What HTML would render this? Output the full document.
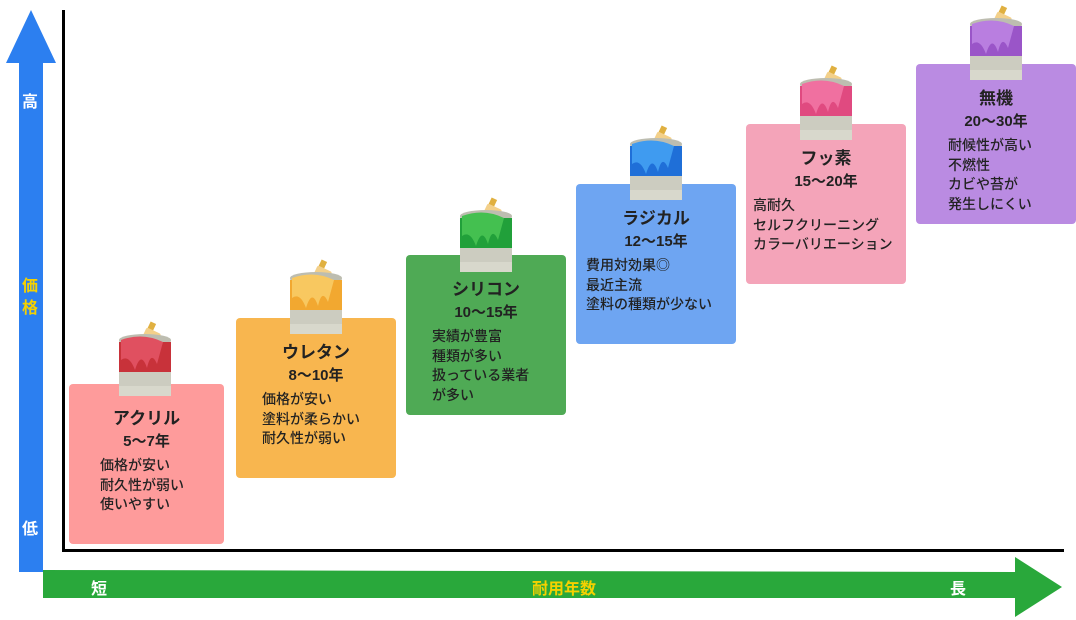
<!DOCTYPE html>
<html><head><meta charset="utf-8"><style>
body{margin:0;width:1076px;height:620px;background:#fff;position:relative;overflow:hidden;font-family:"Liberation Sans","Noto Sans CJK JP",sans-serif;color:#222}
.b{position:absolute;width:156px;height:160px;border-radius:4px}
.t{position:absolute;left:0;width:100%;text-align:center;font-weight:bold}
.t1{top:20px;font-size:17px}
.t2{top:46px;font-size:15px}
.l{position:absolute;top:72px;font-size:14px;line-height:19.5px;font-weight:500;white-space:nowrap}
.can{position:absolute;width:64px;height:80px}
.ax{position:absolute;color:#fff;font-weight:bold;font-size:16px}
</style></head><body>
<!-- axes -->
<div style="position:absolute;left:62px;top:10px;width:3px;height:542px;background:#000"></div>
<div style="position:absolute;left:62px;top:549px;width:1002px;height:3px;background:#000"></div>
<!-- blue arrow -->
<svg style="position:absolute;left:0;top:0" width="70" height="580"><polygon points="31,10 56,63 43,63 43,572 19,572 19,63 6,63" fill="#2c7ff0"/></svg>
<div class="ax" style="left:22px;top:88px">高</div>
<div class="ax" style="left:22px;top:276px;color:#f5d100;line-height:22px">価<br>格</div>
<div class="ax" style="left:22px;top:515px">低</div>
<!-- green arrow -->
<svg style="position:absolute;left:0;top:550px" width="1076" height="70"><polygon points="43,20 1015,22 1015,7 1062,37 1015,67 1015,48 43,48" fill="#29a83b"/></svg>
<div class="ax" style="left:91px;top:575px">短</div>
<div class="ax" style="left:532px;top:575px;color:#f5d100">耐用年数</div>
<div class="ax" style="left:950px;top:575px">長</div>

<div class="b" style="left:69px;top:384px;background:#fe9b9b;width:155px"><div class="t t1">アクリル</div><div class="t t2">5〜7年</div><div class="l" style="left:31px">価格が安い<br>耐久性が弱い<br>使いやすい</div></div>
<div class="b" style="left:236px;top:318px;background:#f8b64f;width:160px"><div class="t t1">ウレタン</div><div class="t t2">8〜10年</div><div class="l" style="left:26px">価格が安い<br>塗料が柔らかい<br>耐久性が弱い</div></div>
<div class="b" style="left:406px;top:255px;background:#4faa55;width:160px"><div class="t t1">シリコン</div><div class="t t2">10〜15年</div><div class="l" style="left:26px">実績が豊富<br>種類が多い<br>扱っている業者<br>が多い</div></div>
<div class="b" style="left:576px;top:184px;background:#6ea5f2;width:160px"><div class="t t1">ラジカル</div><div class="t t2">12〜15年</div><div class="l" style="left:10px">費用対効果◎<br>最近主流<br>塗料の種類が少ない</div></div>
<div class="b" style="left:746px;top:124px;background:#f4a4b9;width:160px"><div class="t t1">フッ素</div><div class="t t2">15〜20年</div><div class="l" style="left:7px">高耐久<br>セルフクリーニング<br>カラーバリエーション</div></div>
<div class="b" style="left:916px;top:64px;background:#ba8be2;width:160px"><div class="t t1">無機</div><div class="t t2">20〜30年</div><div class="l" style="left:32px">耐候性が高い<br>不燃性<br>カビや苔が<br>発生しにくい</div></div>

<!-- cans -->
<svg width="0" height="0" style="position:absolute"><defs>
<g id="can">
<rect x="34" y="2" width="6" height="10" fill="#e0b040" transform="rotate(25 37 10)"/>
<rect x="30" y="10" width="16" height="14" rx="2" fill="#f3d08a" transform="rotate(25 38 17)"/>
<rect x="6" y="20" width="52" height="56" fill="#d8d8cc"/>
<ellipse cx="32" cy="20" rx="26" ry="6" fill="#bdbdb0"/>
<rect x="6" y="50" width="52" height="16" fill="#ccccc0"/>
</g></defs></svg>
<svg class="can" style="left:113px;top:320px" viewBox="0 0 64 80"><use href="#can"/><rect x="6" y="22" width="52" height="30" fill="#c8323a"/><path d="M8 20 Q30 12 50 22 L44 44 Q38 30 34 48 Q28 30 22 50 Q16 34 8 40Z" fill="#e05060"/></svg>
<svg class="can" style="left:284px;top:258px" viewBox="0 0 64 80"><use href="#can"/><rect x="6" y="22" width="52" height="30" fill="#f2a830"/><path d="M8 20 Q30 12 50 22 L44 44 Q38 30 34 48 Q28 30 22 50 Q16 34 8 40Z" fill="#f8c860"/></svg>
<svg class="can" style="left:454px;top:196px" viewBox="0 0 64 80"><use href="#can"/><rect x="6" y="22" width="52" height="30" fill="#21a03a"/><path d="M8 20 Q30 12 50 22 L44 44 Q38 30 34 48 Q28 30 22 50 Q16 34 8 40Z" fill="#44c050"/></svg>
<svg class="can" style="left:624px;top:124px" viewBox="0 0 64 80"><use href="#can"/><rect x="6" y="22" width="52" height="30" fill="#1f6fd8"/><path d="M8 20 Q30 12 50 22 L44 44 Q38 30 34 48 Q28 30 22 50 Q16 34 8 40Z" fill="#3f9bf0"/></svg>
<svg class="can" style="left:794px;top:64px" viewBox="0 0 64 80"><use href="#can"/><rect x="6" y="22" width="52" height="30" fill="#e04a80"/><path d="M8 20 Q30 12 50 22 L44 44 Q38 30 34 48 Q28 30 22 50 Q16 34 8 40Z" fill="#f070a0"/></svg>
<svg class="can" style="left:964px;top:4px" viewBox="0 0 64 80"><use href="#can"/><rect x="6" y="22" width="52" height="30" fill="#9a55c8"/><path d="M8 20 Q30 12 50 22 L44 44 Q38 30 34 48 Q28 30 22 50 Q16 34 8 40Z" fill="#b97ee0"/></svg>
</body></html>
